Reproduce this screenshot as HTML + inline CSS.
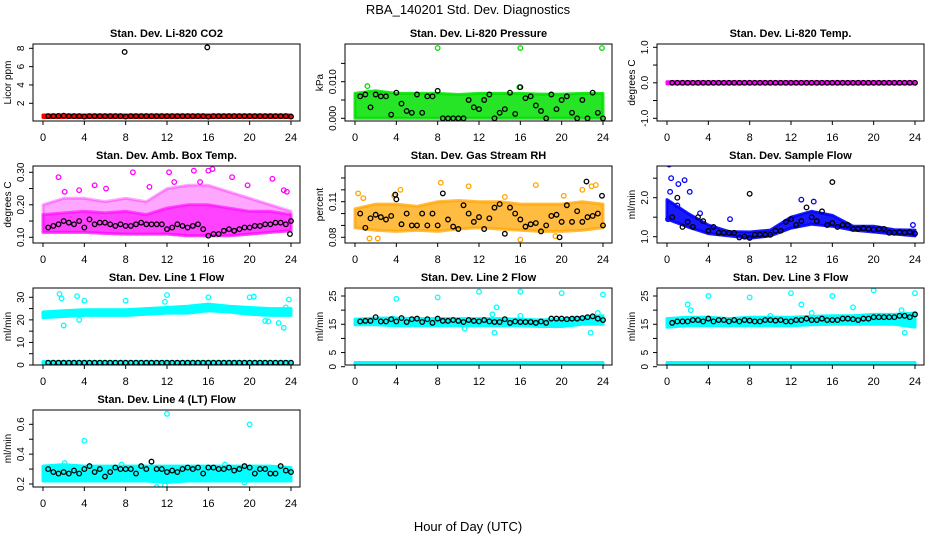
<!DOCTYPE html>
<html><head><meta charset="utf-8">
<style>
body{margin:0;background:#fff;}
svg{display:block;font-family:"Liberation Sans",sans-serif;}
</style></head>
<body>
<svg id="chart" width="936" height="540" viewBox="0 0 936 540">
<text x="468" y="14" text-anchor="middle" font-size="13">RBA_140201  Std. Dev. Diagnostics</text>
<text x="468" y="531" text-anchor="middle" font-size="13">Hour of Day (UTC)</text>
</svg>
<script>
// shared band hours (envelope samples)
const bandHours=[0,2,4,6,8,10,12,14,16,18,20,22,24];
// P1 CO2
const p1Lo=[0.45,0.45,0.45,0.45,0.45,0.45,0.45,0.45,0.45,0.45,0.45,0.45,0.45];
const p1Hi=[0.72,0.72,0.72,0.72,0.72,0.72,0.72,0.72,0.72,0.72,0.72,0.72,0.72];
const p1Ox=[];const p1Oy=[];
const p1Black=[0.6,0.6,0.62,0.65,0.6,0.6,0.6,0.55,0.6,0.6,0.6,0.6,0.6,0.6,0.6,0.55,0.6,0.6,0.6,0.6,0.6,0.6,0.6,0.6,0.6,0.6,0.6,0.6,0.6,0.6,0.6,0.55,0.6,0.6,0.6,0.6,0.6,0.6,0.6,0.6,0.6,0.6,0.6,0.6,0.6,0.6,0.6,0.55];
const p1Bx=[7.9,15.9];const p1By=[7.6,8.1];
// P2 pressure
const p2Lo=[0,0,0,0,0,0,0,0,0,0,0,0,0];
const p2Hi=[0.0068,0.0075,0.0068,0.0068,0.0068,0.0065,0.0068,0.0068,0.0068,0.0066,0.0066,0.0068,0.0068];
const p2Ox=[8,16,23.9,15.9,1.2];const p2Oy=[0.0192,0.0192,0.0192,0.0085,0.0088];
const p2Black=[0.006,0.0065,0.003,0.0065,0.006,0.006,0.001,0.007,0.004,0.002,0.0015,0.0065,0.0015,0.006,0.006,0.0075,0,0,0,0,0,0.005,0.003,0.0025,0.005,0.0065,0,0.0015,0.0025,0.007,0.0012,0.0085,0.0055,0.006,0.0035,0.002,0,0.0065,0.0025,0.005,0.006,0.0015,0,0.005,0,0.007,0.0015,0];
const p2Bx=[];const p2By=[];
// P3 temp
const p3Lo=[-0.03,-0.03,-0.03,-0.03,-0.03,-0.03,-0.03,-0.03,-0.03,-0.03,-0.03,-0.03,-0.03];
const p3Hi=[0.03,0.03,0.03,0.03,0.03,0.03,0.03,0.03,0.03,0.03,0.03,0.03,0.03];
const p3Ox=[];const p3Oy=[];
const p3Black=[0,0,0,0,0,0,0,0,0,0,0,0,0,0,0,0,0,0,0,0,0,0,0,0,0,0,0,0,0,0,0,0,0,0,0,0,0,0,0,0,0,0,0,0,0,0,0,0];
const p3Bx=[];const p3By=[];
// P4 amb box temp
const p4Lo=[0.115,0.115,0.115,0.112,0.11,0.11,0.11,0.105,0.105,0.105,0.11,0.115,0.12];
const p4Hi=[0.17,0.175,0.18,0.175,0.18,0.17,0.19,0.2,0.2,0.19,0.18,0.18,0.17];
const p4Hi2=[0.2,0.22,0.22,0.21,0.22,0.21,0.25,0.26,0.26,0.24,0.22,0.2,0.18];
const p4Ox=[1.5,3.5,8.7,12.2,14.6,16,16.4,18.3,22.2,23.3,23.6,2.1,5,10.3,15.2,19.8,6.1,12.7];
const p4Oy=[0.285,0.245,0.30,0.30,0.305,0.305,0.31,0.285,0.28,0.245,0.24,0.24,0.26,0.255,0.27,0.26,0.25,0.27];
const p4Black=[0.13,0.135,0.14,0.15,0.145,0.14,0.15,0.13,0.155,0.14,0.145,0.145,0.14,0.135,0.14,0.135,0.135,0.14,0.145,0.14,0.14,0.14,0.14,0.125,0.13,0.14,0.135,0.13,0.135,0.14,0.125,0.105,0.11,0.11,0.12,0.125,0.12,0.125,0.13,0.13,0.135,0.135,0.14,0.14,0.145,0.145,0.14,0.15];
const p4Bx=[23.9];const p4By=[0.11];
// P5 gas stream RH
const p5Lo=[0.088,0.086,0.085,0.086,0.085,0.087,0.088,0.087,0.086,0.085,0.085,0.086,0.088];
const p5Hi=[0.104,0.108,0.108,0.106,0.11,0.111,0.11,0.11,0.108,0.108,0.108,0.11,0.108];
const p5Ox=[0.3,2.2,1.4,8.3,11,4.4,16,17.5,20.2,22,22.9,23.3,3.8,14.5,0.8,19.4];
const p5Oy=[0.117,0.079,0.079,0.126,0.123,0.12,0.078,0.124,0.115,0.12,0.123,0.124,0.115,0.114,0.113,0.081];
const p5Black=[0.1,0.088,0.096,0.099,0.097,0.095,0.098,0.112,0.091,0.1,0.09,0.09,0.1,0.09,0.1,0.09,0.117,0.095,0.089,0.087,0.107,0.1,0.093,0.097,0.087,0.096,0.105,0.108,0.083,0.105,0.1,0.095,0.089,0.091,0.092,0.085,0.09,0.098,0.099,0.093,0.107,0.093,0.102,0.093,0.097,0.098,0.1,0.09];
const p5Bx=[19.8,22.4,23.9,3.9];const p5By=[0.08,0.127,0.115,0.116];
// P6 sample flow
const p6Lo=[1.45,1.25,1.08,1.02,0.96,1.02,1.22,1.32,1.27,1.17,1.12,1.07,1.02];
const p6Hi=[1.95,1.6,1.3,1.13,1.12,1.17,1.5,1.65,1.55,1.27,1.27,1.18,1.17];
const p6Ox=[0.2,0.4,1.7,0.3,2.2,1.1,13,14.2,23.8,0.1,1.0,6.1,3.2];
const p6Oy=[2.85,2.5,2.45,2.15,2.15,2.35,1.95,1.9,1.3,1.45,1.8,1.45,1.6];
const p6Black=[1.5,2.0,1.25,1.38,1.25,1.5,1.4,1.15,1.25,1.1,1.1,1.1,1.1,0.98,1.0,0.97,1.05,1.05,1.05,1.05,1.15,1.15,1.38,1.45,1.3,1.4,1.75,1.5,1.4,1.65,1.3,1.35,1.25,1.3,1.3,1.2,1.2,1.22,1.2,1.18,1.2,1.2,1.1,1.1,1.12,1.1,1.12,1.08];
const p6Bx=[8,16];const p6By=[2.1,2.4];
// P7 line 1 flow
const p7Lo=[21,21.5,22,22,22,22.5,23,23,24,23.5,22.5,22,22];
const p7Hi=[23.5,24,24.5,24.5,24.5,25,25.5,26,27,26,25.5,25,25];
const p7Lo2=[0.3,0.3,0.3,0.3,0.3,0.3,0.3,0.3,0.3,0.3,0.3,0.3,0.3];
const p7Hi2=[1.5,1.5,1.5,1.5,1.5,1.5,1.5,1.5,1.5,1.5,1.5,1.5,1.5];
const p7Ox=[1.6,1.8,2.0,3.3,3.5,4,8,11.8,12,16,20,20.4,21.5,21.8,22.8,23.3,23.8,23.5];
const p7Oy=[31.5,29.5,17.5,30.5,20,28.5,28.5,28,31,30,30,30.3,19.5,19.3,18.6,16.5,29,25.5];
const p7Black=[1,1,1,1,1,1,1,1,1,1,1,1,1,1,1,1,1,1,1,1,1,1,1,1,1,1,1,1,1,1,1,1,1,1,1,1,1,1,1,1,1,1,1,1,1,1,1,1];
const p7Bx=[];const p7By=[];
// P8 line 2 flow
const p8Lo=[14.8,14.8,14.5,14.5,14.5,14.5,14.5,14.5,14.5,14.2,14.2,15,15];
const p8Hi=[16.8,17.2,17.2,17,17,17,17,17,16.8,16.5,16.8,17.5,18];
const p8Lo2=[0.2,0.2,0.2,0.2,0.2,0.2,0.2,0.2,0.2,0.2,0.2,0.2,0.2];
const p8Hi2=[1.5,1.5,1.5,1.5,1.5,1.5,1.5,1.5,1.5,1.5,1.5,1.5,1.5];
const p8Ox=[4,8,12,16,20,24,13.7,13.5,22.8,23.5,3.7,10.6,13.3,16];
const p8Oy=[24,24.5,26.5,26.5,26,25.5,21,12,12,19,17,13.5,18.5,18];
const p8Black=[16,16.2,16.2,17.5,16,16,16.8,16,17.2,15.8,16.8,17,15.8,16.8,15.5,17,16.2,16.2,16.5,16.2,15.8,16.5,16.2,16,16.5,16,15.8,15.8,16.8,15.5,16,15.8,15.8,15.8,15.5,16,15.5,17,17,17,16.8,17,17,17.2,17.5,17.8,17,16.5];
const p8Bx=[];const p8By=[];
// P9 line 3 flow
const p9Lo=[14,14.5,14.5,14.5,14.5,14.5,14.5,14.8,15,15,15,15,14];
const p9Hi=[17,17.5,17.5,17,17.5,17.5,17.5,17.8,18,18,18.5,18.5,19];
const p9Lo2=[0.2,0.2,0.2,0.2,0.2,0.2,0.2,0.2,0.2,0.2,0.2,0.2,0.2];
const p9Hi2=[1.5,1.5,1.5,1.5,1.5,1.5,1.5,1.5,1.5,1.5,1.5,1.5,1.5];
const p9Ox=[2,2.3,4,8,10,12,13,14,20,22.7,23,24,16,18];
const p9Oy=[22,20,25,24.5,18,26,22,19,27,20,12,26,25,21];
const p9Black=[15.5,16,16,16,16.5,16.5,16,17,16,16.5,16.5,16,16.5,16,16.5,16.3,16,16,16.5,16.5,16.3,16.5,16,16,16.5,16.5,17,16.5,16.5,17,16.5,16.5,16.5,17,17,16.8,16.5,17,17,17.5,17.5,17.5,17.5,17.5,18,18,17.5,18.5];
const p9Bx=[];const p9By=[];
// P10 line 4 (LT) flow
const p10Lo=[0.22,0.22,0.22,0.22,0.22,0.22,0.21,0.22,0.22,0.22,0.22,0.22,0.22];
const p10Hi=[0.32,0.33,0.32,0.32,0.32,0.32,0.32,0.32,0.32,0.32,0.32,0.32,0.31];
const p10Ox=[4,12,20,11.8,11,2.1,7.6,17.6,19.5];
const p10Oy=[0.49,0.67,0.6,0.19,0.18,0.34,0.33,0.33,0.21];
const p10Black=[0.3,0.28,0.27,0.28,0.27,0.29,0.27,0.3,0.32,0.28,0.3,0.25,0.28,0.31,0.3,0.3,0.3,0.27,0.32,0.3,0.35,0.3,0.3,0.28,0.29,0.28,0.3,0.31,0.3,0.31,0.27,0.31,0.31,0.3,0.3,0.31,0.29,0.3,0.32,0.31,0.27,0.3,0.3,0.27,0.27,0.32,0.29,0.28];
const p10Bx=[];const p10By=[];

const NS="http://www.w3.org/2000/svg";
const svg=document.getElementById('chart');
function mk(tag,attrs,parent){const e=document.createElementNS(NS,tag);for(const k in attrs)e.setAttribute(k,attrs[k]);(parent||svg).appendChild(e);return e;}

const panels=[
 {c:0,r:0,t:"Stan. Dev. Li-820 CO2",yl:"Licor ppm",col:"#ff0000",v0:2,p0:103.3,v1:8,p1:48.3,ticks:[2,4,6,8],labs:["2","4","6","8"],bands:[[p1Lo,p1Hi,1]],ox:p1Ox,oy:p1Oy,bk:p1Black,bx:p1Bx,by:p1By},
 {c:1,r:0,t:"Stan. Dev. Li-820 Pressure",yl:"kPa",col:"#00e000",v0:0,p0:118.3,v1:0.01,p1:81.7,ticks:[0,0.005,0.01,0.015],labs:["0.000","","0.010",""],bands:[[p2Lo,p2Hi,0.85]],ox:p2Ox,oy:p2Oy,bk:p2Black,bx:p2Bx,by:p2By},
 {c:2,r:0,t:"Stan. Dev. Li-820 Temp.",yl:"degrees C",col:"#ff00ff",v0:-1,p0:118.3,v1:1,p1:47.3,ticks:[-1,-0.5,0,0.5,1],labs:["-1.0","","0.0","","1.0"],bands:[[p3Lo,p3Hi,1]],ox:p3Ox,oy:p3Oy,bk:p3Black,bx:p3Bx,by:p3By},
 {c:0,r:1,t:"Stan. Dev. Amb. Box Temp.",yl:"degrees C",col:"#ff00ff",v0:0.1,p0:237.3,v1:0.3,p1:172.3,ticks:[0.1,0.15,0.2,0.25,0.3],labs:["0.10","","0.20","","0.30"],bands:[[p4Lo,p4Hi2,0.35],[p4Lo,p4Hi,0.6]],ox:p4Ox,oy:p4Oy,bk:p4Black,bx:p4Bx,by:p4By},
 {c:1,r:1,t:"Stan. Dev. Gas Stream RH",yl:"percent",col:"#ffa500",v0:0.08,p0:237.3,v1:0.11,p1:201.7,ticks:[0.08,0.09,0.1,0.11,0.12,0.13],labs:["0.08","","","0.11","",""],bands:[[p5Lo,p5Hi,0.75]],ox:p5Ox,oy:p5Oy,bk:p5Black,bx:p5Bx,by:p5By},
 {c:2,r:1,t:"Stan. Dev. Sample Flow",yl:"ml/min",col:"#0000ff",v0:1,p0:236.7,v1:2,p1:197.7,ticks:[1,1.5,2,2.5],labs:["1.0","","2.0",""],bands:[[p6Lo,p6Hi,0.9]],ox:p6Ox,oy:p6Oy,bk:p6Black,bx:p6Bx,by:p6By},
 {c:0,r:2,t:"Stan. Dev. Line 1 Flow",yl:"ml/min",col:"#00ffff",v0:0,p0:365,v1:30,p1:297.3,ticks:[0,5,10,15,20,25,30],labs:["0","","10","","20","","30"],bands:[[p7Lo,p7Hi,1],[p7Lo2,p7Hi2,1]],ox:p7Ox,oy:p7Oy,bk:p7Black,bx:p7Bx,by:p7By},
 {c:1,r:2,t:"Stan. Dev. Line 2 Flow",yl:"ml/min",col:"#00ffff",v0:0,p0:366.7,v1:25,p1:296,ticks:[0,5,10,15,20,25],labs:["0","5","","15","","25"],bands:[[p8Lo,p8Hi,1],[p8Lo2,p8Hi2,1]],ox:p8Ox,oy:p8Oy,bk:p8Black,bx:p8Bx,by:p8By},
 {c:2,r:2,t:"Stan. Dev. Line 3 Flow",yl:"ml/min",col:"#00ffff",v0:0,p0:366.7,v1:25,p1:296,ticks:[0,5,10,15,20,25],labs:["0","5","","15","","25"],bands:[[p9Lo,p9Hi,1],[p9Lo2,p9Hi2,1]],ox:p9Ox,oy:p9Oy,bk:p9Black,bx:p9Bx,by:p9By},
 {c:0,r:3,t:"Stan. Dev. Line 4 (LT) Flow",yl:"ml/min",col:"#00ffff",v0:0.2,p0:484,v1:0.6,p1:424.3,ticks:[0.2,0.3,0.4,0.5,0.6],labs:["0.2","","0.4","","0.6"],bands:[[p10Lo,p10Hi,1]],ox:p10Ox,oy:p10Oy,bk:p10Black,bx:p10Bx,by:p10By}
];
const xTicks=[0,4,8,12,16,20,24];

panels.forEach((p,pi)=>{
 const L=312*p.c+33,R=312*p.c+300,T=44+122*p.r,B=121+122*p.r;
 const g=mk('g',{});
 
 
 const xs=h=>312*p.c+43+h*(248/24);
 const ys=v=>p.p0+(v-p.v0)*(p.p1-p.p0)/(p.v1-p.v0);
 const tt=mk('text',{x:(L+R)/2,y:T-7,'text-anchor':'middle','font-size':11,'font-weight':'bold'},g);
 tt.textContent=p.t;
 
 
 const clip=mk('clipPath',{id:'cp'+pi},g);
 mk('rect',{x:L,y:T,width:R-L,height:B-T},clip);
 const pg=mk('g',{'clip-path':'url(#cp'+pi+')'},g);
 p.bands.forEach(b=>{
  let d='';
  bandHours.forEach((h,i)=>{d+=(i?'L':'M')+xs(h).toFixed(1)+','+ys(b[1][i]).toFixed(1);});
  for(let i=bandHours.length-1;i>=0;i--)d+='L'+xs(bandHours[i]).toFixed(1)+','+ys(b[0][i]).toFixed(1);
  const poly=mk('path',{d:d+'Z',fill:p.col,'fill-opacity':b[2],stroke:p.col,'stroke-width':3,'stroke-opacity':b[2],'stroke-linejoin':'round'},pg);
  
  
 });
 p.ox.forEach((h,i)=>{
  const c=mk('circle',{cx:xs(h),cy:ys(p.oy[i]),r:2.3,fill:'none',stroke:p.col,'stroke-width':1.3},pg);
  
  
 });
 p.bk.forEach((v,i)=>{
  const c=mk('circle',{cx:xs(0.5*(i+1)),cy:ys(v),r:2.3,fill:'none',stroke:'#000','stroke-width':1.3},pg);
  
  
 });
 p.bx.forEach((h,i)=>{
  const c=mk('circle',{cx:xs(h),cy:ys(p.by[i]),r:2.3,fill:'none',stroke:'#000','stroke-width':1.3},pg);
  
  
 });
 const box=mk('rect',{x:L,y:T,width:R-L,height:B-T,fill:'none',stroke:'#000','stroke-width':1},g);
 
 
 xTicks.forEach(h=>{
  mk('line',{x1:xs(h),x2:xs(h),y1:B,y2:B+4,stroke:'#000'},g);
  const t=mk('text',{x:xs(h),y:B+20,'text-anchor':'middle','font-size':11},g);
  t.textContent=h;
  
  
 });
 p.ticks.forEach((v,i)=>{
  const y=ys(v);
  mk('line',{x1:L-4,x2:L,y1:y,y2:y,stroke:'#000'},g);
  if(p.labs[i]){
   const t=mk('text',{x:312*p.c+24,y:y,'text-anchor':'middle','font-size':10,transform:'rotate(-90 '+(312*p.c+24)+' '+y+')'},g);
   t.textContent=p.labs[i];
   
   
  }
 });
 const yt=mk('text',{x:312*p.c+11,y:(T+B)/2,'text-anchor':'middle','font-size':10,transform:'rotate(-90 '+(312*p.c+11)+' '+((T+B)/2)+')'},g);
 yt.textContent=p.yl;
 
 
});
</script>
</body></html>
